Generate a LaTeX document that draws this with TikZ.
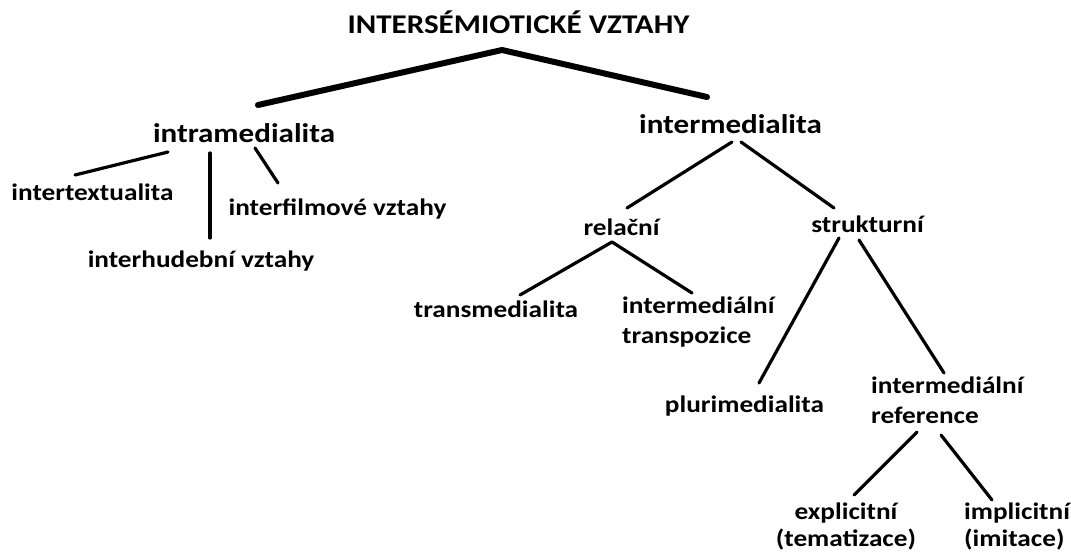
\documentclass[tikz,border=0pt]{standalone}
\usepackage{fontspec}
\setmainfont{Carlito}[FakeStretch=1.15]

\begin{document}
\begin{tikzpicture}[x=1pt,y=-1pt]
    \tikzset{term/.style = {inner sep=0pt, font=\bfseries\fontsize{27}{32}\selectfont}}
    \tikzset{leaf/.style = {inner sep=0pt, font=\bfseries\fontsize{23.7}{30}\selectfont}}
    \tikzset{lowleaf/.style = {leaf, font=\bfseries\fontsize{23.7}{27}\selectfont}}
    \tikzset{edge/.style = {draw=black, line width=3.2pt, line cap=round}}
    \tikzset{trunk/.style = {draw=black, line width=6pt, line cap=round, line join=round}}

    \useasboundingbox (0,0) rectangle (1071,555);

    % vertices
    \node[term, anchor=base] (top) at (518.5,33) {INTERSÉMIOTICKÉ VZTAHY};
    \node[term, anchor=base] (intra) at (244,142) {intramedialita};
    \node[term, anchor=base] (inter) at (730.5,133) {intermedialita};

    \node[leaf, anchor=base] (itext) at (92.5,200) {intertextualita};
    \node[leaf, anchor=base] (ihud) at (201,267) {interhudební vztahy};
    \node[leaf, anchor=base] (ifilm) at (337.5,215) {interfilmové vztahy};

    \node[leaf, anchor=base] (rel) at (621.5,235) {relační};
    \node[leaf, anchor=base] (str) at (867.5,232) {strukturní};
    \node[leaf, anchor=base] (trans) at (496,317) {transmedialita};
    \node[leaf, anchor=north west, align=left] (transp) at (622,297) {intermediální\\transpozice};
    \node[leaf, anchor=base] (pluri) at (744.5,412) {plurimedialita};
    \node[leaf, anchor=north west, align=left] (iref) at (871,377) {intermediální\\reference};
    \node[lowleaf, anchor=north, align=center] (expl) at (846,503) {explicitní\\(tematizace)};
    \node[lowleaf, anchor=north west, align=left] (impl) at (964,503) {implicitní\\(imitace)};

    % edges
    \draw[trunk] ([shift={(14,-37)}]intra.base) -- ([shift={(-16.5,17)}]top.base)
        -- ([shift={(-23.5,-36)}]inter.base);

    \draw[edge] ([shift={(-76,10)}]intra.base) -- ([shift={(-17.5,-25)}]itext.base);
    \draw[edge] ([shift={(-34,11)}]intra.base) -- ([shift={(9,-29)}]ihud.base);
    \draw[edge] ([shift={(11,6)}]intra.base) -- ([shift={(-59.5,-32)}]ifilm.base);

    \draw[edge] ([shift={(1.5,9)}]inter.base) -- ([shift={(5.5,-27)}]rel.base);
    \draw[edge] ([shift={(10.5,9)}]inter.base) -- ([shift={(-33.5,-24)}]str.base);

    \draw[edge] ([shift={(-9.5,7)}]rel.base) -- ([shift={(24,-22)}]trans.base);
    \draw[edge] ([shift={(-9.5,7)}]rel.base) -- ([shift={(70,-4)}]transp.north west);

    \draw[edge] ([shift={(-28.5,6)}]str.base) -- ([shift={(14.5,-29)}]pluri.base);
    \draw[edge] ([shift={(-8.5,8)}]str.base) -- ([shift={(73,-4)}]iref.north west);

    \draw[edge] ([shift={(46,55)}]iref.north west) -- ([shift={(8,-8)}]expl.north);
    \draw[edge] ([shift={(70,58)}]iref.north west) -- ([shift={(28,-3)}]impl.north west);
\end{tikzpicture}
\end{document}
